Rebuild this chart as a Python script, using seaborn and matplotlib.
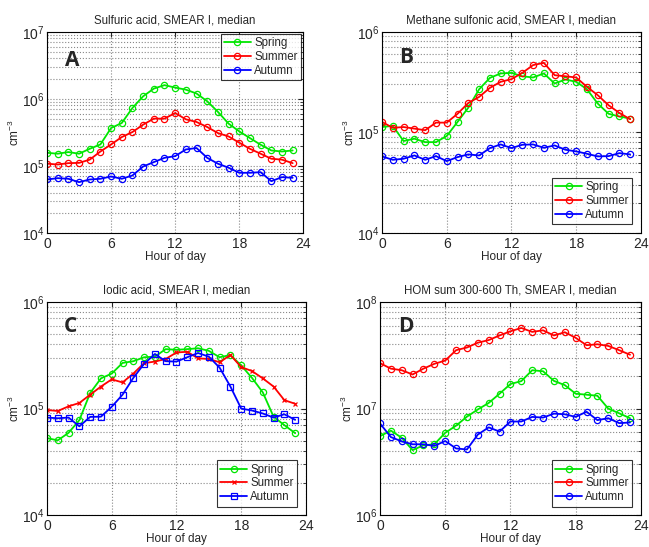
import numpy as np
import pandas as pd
import matplotlib
matplotlib.use("Agg")
import matplotlib.pyplot as plt
import seaborn as sns

sns.set_style("white")
plt.rcParams["font.family"] = ["Liberation Sans", "DejaVu Sans"]
plt.rcParams["mathtext.fontset"] = "custom"
plt.rcParams["mathtext.rm"] = "Liberation Sans"
plt.rcParams["mathtext.it"] = "Liberation Sans:italic"

# ====================== DATA ======================
hours = list(range(24))
seasons = ["Spring", "Summer", "Autumn"]

# A: sulfuric acid
h2so4_spring = [1.57e5, 1.52e5, 1.61e5, 1.52e5, 1.80e5, 2.09e5, 3.67e5, 4.36e5, 7.31e5, 1.09e6, 1.42e6, 1.60e6,
                1.47e6, 1.37e6, 1.20e6, 9.2e5, 6.4e5, 4.27e5, 3.27e5, 2.6e5, 2.07e5, 1.70e5, 1.64e5, 1.70e5]
h2so4_summer = [1.08e5, 1.05e5, 1.10e5, 1.11e5, 1.24e5, 1.64e5, 2.09e5, 2.69e5, 3.2e5, 4.12e5, 5.07e5, 5.07e5,
                6.15e5, 4.95e5, 4.52e5, 3.8e5, 3.09e5, 2.75e5, 2.22e5, 1.80e5, 1.52e5, 1.28e5, 1.24e5, 1.10e5]
h2so4_autumn = [6.28e4, 6.57e4, 6.43e4, 5.73e4, 6.28e4, 6.43e4, 6.96e4, 6.43e4, 7.2e4, 9.8e4, 1.14e5, 1.32e5,
                1.40e5, 1.76e5, 1.85e5, 1.32e5, 1.08e5, 9.4e4, 7.9e4, 7.9e4, 8.07e4, 5.93e4, 6.8e4, 6.65e4]

# B: methane sulfonic acid
msa_spring = [1.13e5, 1.16e5, 8.2e4, 8.65e4, 8.0e4, 8.0e4, 9.2e4, 1.27e5, 1.76e5, 2.68e5, 3.48e5, 3.85e5,
              3.9e5, 3.61e5, 3.51e5, 3.85e5, 3.06e5, 3.35e5, 3.18e5, 2.68e5, 1.93e5, 1.53e5, 1.44e5, 1.37e5]
msa_summer = [1.27e5, 1.11e5, 1.13e5, 1.09e5, 1.05e5, 1.25e5, 1.25e5, 1.53e5, 1.96e5, 2.25e5, 2.77e5, 3.18e5,
              3.38e5, 3.9e5, 4.66e5, 4.91e5, 3.7e5, 3.61e5, 3.51e5, 2.83e5, 2.34e5, 1.86e5, 1.56e5, 1.35e5]
msa_autumn = [5.77e4, 5.34e4, 5.47e4, 5.9e4, 5.34e4, 5.81e4, 5.18e4, 5.68e4, 6.04e4, 5.9e4, 6.98e4, 7.59e4,
              6.98e4, 7.53e4, 7.59e4, 7.03e4, 7.42e4, 6.72e4, 6.47e4, 6.13e4, 5.77e4, 5.81e4, 6.22e4, 6.04e4]

# C: iodic acid
hio3_spring = [5.29e4, 5.04e4, 5.93e4, 7.8e4, 1.40e5, 1.92e5, 2.13e5, 2.68e5, 2.78e5, 3.03e5, 3.07e5, 3.61e5,
               3.56e5, 3.61e5, 3.68e5, 3.48e5, 3.03e5, 3.18e5, 2.54e5, 1.94e5, 1.42e5, 8.4e4, 7.0e4, 5.88e4]
hio3_summer = [9.7e4, 9.5e4, 1.05e5, 1.13e5, 1.35e5, 1.61e5, 1.88e5, 1.76e5, 2.13e5, 2.67e5, 2.76e5, 2.92e5,
               3.36e5, 3.41e5, 2.96e5, 2.92e5, 2.72e5, 3.18e5, 2.45e5, 2.25e5, 1.92e5, 1.61e5, 1.20e5, 1.11e5]
hio3_autumn = [8.24e4, 8.12e4, 8.24e4, 6.82e4, 8.36e4, 8.4e4, 1.04e5, 1.35e5, 1.94e5, 2.63e5, 3.25e5, 2.78e5,
               2.76e5, 3.03e5, 3.32e5, 3.07e5, 2.42e5, 1.61e5, 1.0e5, 9.6e4, 9.0e4, 8.24e4, 8.85e4, 7.85e4]

# D: HOM sum
hom_spring = [5.52e6, 6.22e6, 5.33e6, 4.08e6, 4.53e6, 4.63e6, 5.93e6, 6.92e6, 8.41e6, 9.82e6, 1.13e7, 1.38e7,
              1.70e7, 1.81e7, 2.29e7, 2.24e7, 1.82e7, 1.66e7, 1.38e7, 1.35e7, 1.32e7, 1.0e7, 9.04e6, 8.13e6]
hom_summer = [2.67e7, 2.37e7, 2.29e7, 2.09e7, 2.37e7, 2.63e7, 2.82e7, 3.53e7, 3.74e7, 4.15e7, 4.39e7, 4.85e7,
              5.31e7, 5.70e7, 5.24e7, 5.42e7, 4.85e7, 5.2e7, 4.61e7, 3.93e7, 4.01e7, 3.87e7, 3.53e7, 3.2e7]
hom_autumn = [7.26e6, 5.41e6, 4.93e6, 4.63e6, 4.63e6, 4.47e6, 4.97e6, 4.23e6, 4.14e6, 5.71e6, 6.67e6, 6.09e6,
              7.57e6, 7.57e6, 8.36e6, 8.24e6, 8.97e6, 8.85e6, 8.36e6, 9.35e6, 7.8e6, 8.13e6, 7.31e6, 7.41e6]

titles = ["Sulfuric acid, SMEAR I, median",
          "Methane sulfonic acid, SMEAR I, median",
          "Iodic acid, SMEAR I, median",
          "HOM sum 300-600 Th, SMEAR I, median"]
letters = ["A", "B", "C", "D"]
ylims = [(1e4, 1e7), (1e4, 1e6), (1e4, 1e6), (1e6, 1e8)]
legend_locs = ["upper right", "lower right", "lower right", "lower right"]
panel_data = [
    (h2so4_spring, h2so4_summer, h2so4_autumn),
    (msa_spring, msa_summer, msa_autumn),
    (hio3_spring, hio3_summer, hio3_autumn),
    (hom_spring, hom_summer, hom_autumn),
]

colors = {"Spring": "#00e600", "Summer": "#ff0000", "Autumn": "#0000ff"}
default_markers = {"Spring": "o", "Summer": "o", "Autumn": "o"}
iodic_markers = {"Spring": "o", "Summer": "x", "Autumn": "s"}

# axes rectangles in figure fraction [left, bottom, width, height]
positions = [
    [0.0724, 0.574, 0.395, 0.368],
    [0.5886, 0.574, 0.399, 0.368],
    [0.0724, 0.058, 0.399, 0.390],
    [0.5855, 0.058, 0.402, 0.390],
]
letter_xy = [(0.07, 0.83), (0.066, 0.845), (0.066, 0.858), (0.07, 0.858)]
legend_pads = [0.2, 0.75, 0.75, 0.75]

fig = plt.figure(figsize=(6.49, 5.47), dpi=100)

for i, (spring, summer, autumn) in enumerate(panel_data):
    ax = fig.add_axes(positions[i])
    df = pd.DataFrame({
        "hour": hours * 3,
        "value": list(spring) + list(summer) + list(autumn),
        "season": ["Spring"] * 24 + ["Summer"] * 24 + ["Autumn"] * 24,
    })
    markers = iodic_markers if i == 2 else default_markers
    for s in seasons:
        sub = df[df["season"] == s]
        m = markers[s]
        ms = 3.5 if m == "x" else 4.5
        sns.lineplot(data=sub, x="hour", y="value", ax=ax, color=colors[s], lw=1.3,
                     marker=m, markersize=ms, markerfacecolor="none",
                     markeredgecolor=colors[s], markeredgewidth=0.9, label=s)

    ax.set_yscale("log")
    ax.set_ylim(*ylims[i])
    ax.set_xlim(0, 24)
    ax.set_xticks([0, 6, 12, 18, 24])
    ax.grid(True, which="major", axis="both", ls=":", color="#888888", lw=0.8)
    ax.grid(True, which="minor", axis="y", ls=":", color="#888888", lw=0.8)
    ax.tick_params(which="both", direction="in", top=True, right=True, labelsize=10)
    ax.tick_params(axis="x", pad=3)
    ax.tick_params(axis="y", pad=2)
    ax.tick_params(which="minor", length=2)
    for sp in ax.spines.values():
        sp.set_color("black")
        sp.set_linewidth(0.8)

    ax.set_title(titles[i], fontsize=8.3, pad=6)
    ax.set_xlabel("Hour of day", fontsize=8.5, labelpad=0)
    ax.set_ylabel("cm$^{-3}$", fontsize=8.5, labelpad=0)
    ax.text(letter_xy[i][0], letter_xy[i][1], letters[i], transform=ax.transAxes, fontsize=15,
            fontweight="bold", family="Open Sans")

    leg = ax.legend(loc=legend_locs[i], fontsize=8.3, handlelength=2.3, handletextpad=0.3,
                    borderpad=0.3, labelspacing=0.15, borderaxespad=legend_pads[i], fancybox=False)
    leg.get_frame().set_edgecolor("black")
    leg.get_frame().set_linewidth(0.8)

fig.savefig("out.png", dpi=100)
